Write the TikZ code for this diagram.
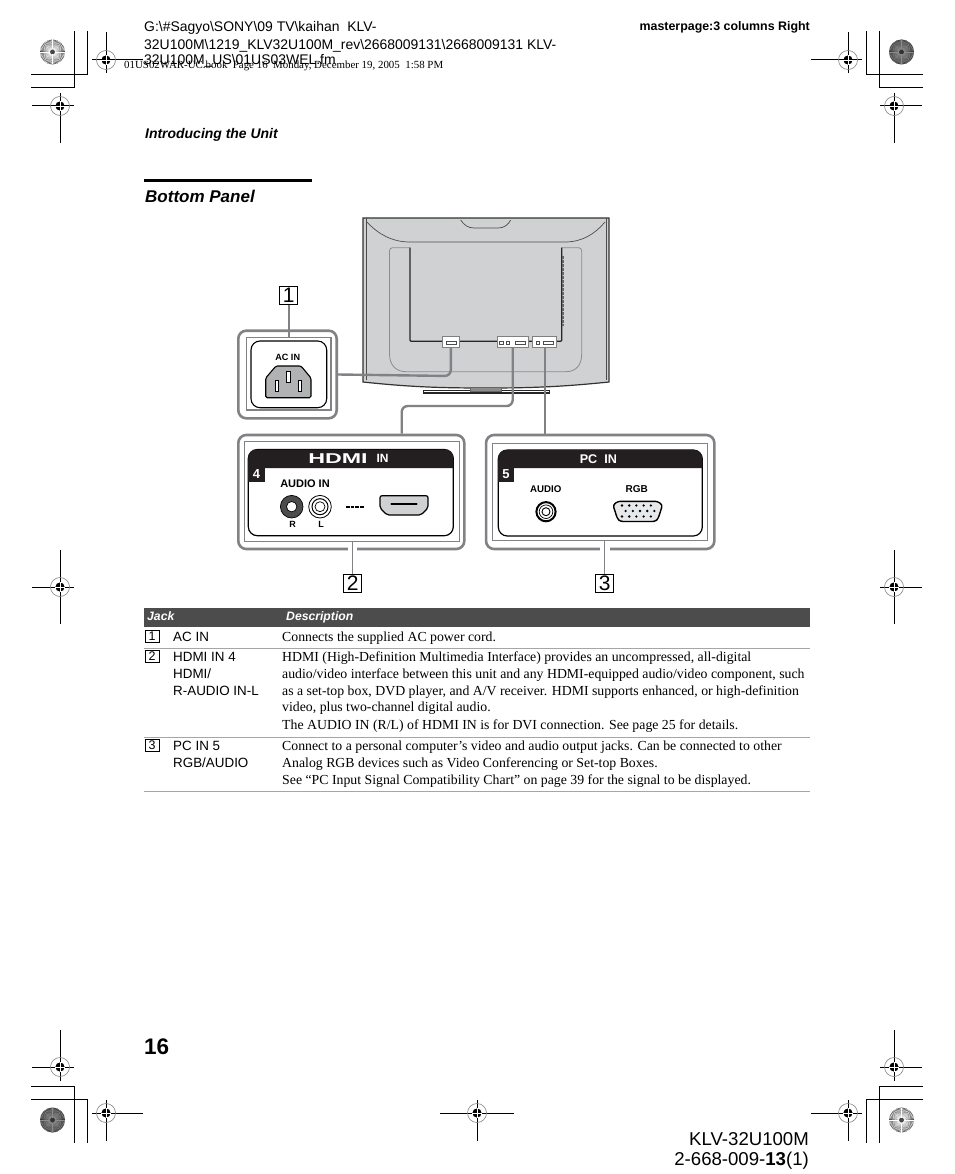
\documentclass[tikz,border=0pt]{standalone}
\usepackage{fontspec}
\setmainfont{Liberation Sans}
\newfontfamily\serifrm{Liberation Serif}
\usetikzlibrary{calc}
\definecolor{tvgray}{HTML}{D0D1D3}
\definecolor{wire}{HTML}{808285}
\definecolor{panelblk}{HTML}{231F20}
\newcommand{\fs}[1]{\fontsize{#1}{#1}\selectfont}
\newcommand{\regmark}[7]{% x y hleft hright vtop vbot name
  \coordinate (#7) at (#1,#2);
  \draw[crop] (#3,#2) -- (#4,#2);
  \draw[crop] (#1,#5) -- (#1,#6);
  \draw[gray,line width=.6pt] (#7) circle (9.5);
  \fill[black] (#7) circle (4.6);
  \draw[white,line width=.4pt] ($(#7)+(-4.6,0)$) -- ($(#7)+(4.6,0)$);
  \draw[white,line width=.4pt] ($(#7)+(0,-4.6)$) -- ($(#7)+(0,4.6)$);
}
\newcommand{\burst}[5]{% x y colour ray-colour name
  \coordinate (#5) at (#1,#2);
  \fill[#3] (#5) circle (12.5);
  \foreach \a in {0,6,...,354}{\draw[#4,line width=.4pt] ($(#5)+(\a:2.5)$) -- ($(#5)+(\a:12.5)$);}
}
\tikzset{
  x=1pt,y=-1pt,
  crop/.style={black,line width=1pt},
  wireline/.style={wire,line width=2.4pt,rounded corners=6pt},
  thinframe/.style={wire,line width=1pt},
  leader/.style={wire,line width=1pt},
  numbox/.style={draw=black,line width=.7pt,fill=white,minimum width=18pt,minimum height=18pt,inner sep=0pt,font=\fs{21}},
  smallbox/.style={draw=black,line width=.8pt,fill=white,minimum width=14pt,minimum height=12pt,inner sep=0pt,font=\fs{12.5}},
  txt/.style={anchor=base west,inner sep=0pt,font=\fs{13.4}},
  body/.style={anchor=base west,inner sep=0pt,font=\serifrm\fs{13.8}},
  lab/.style={inner sep=0pt,font=\bfseries\fs{9.7}},
  rowrule/.style={draw=black!35,line width=.8pt},
  jackport/.style={fill=tvgray,draw=black,line width=1.2pt},
}
\begin{document}
\begin{tikzpicture}
\useasboundingbox (0,0) rectangle (954,1174);
\fill[white] (0,0) rectangle (954,1174);

% crop marks
\draw[crop] (31,75)--(87,75)--(87,31);
\draw[crop] (31,88)--(74,88)--(74,31);
\draw[crop] (923,75)--(866,75)--(866,31);
\draw[crop] (923,88)--(879,88)--(879,31);
\draw[crop] (31,1086)--(74,1086)--(74,1143);
\draw[crop] (31,1099)--(87,1099)--(87,1143);
\draw[crop] (923,1086)--(879,1086)--(879,1143);
\draw[crop] (923,1099)--(866,1099)--(866,1143);
\regmark{106}{60}{92}{143}{32}{73}{ma}
\regmark{60}{106}{32}{74}{93}{143}{mb}
\regmark{848}{60}{811}{862}{32}{73}{mc}
\regmark{894}{106}{880}{922}{93}{143}{md}
\regmark{60}{587}{32}{74}{550}{624}{me}
\regmark{894}{587}{880}{922}{550}{624}{mf}
\regmark{60}{1067}{32}{74}{1030}{1081}{mg}
\regmark{106}{1113}{92}{143}{1100}{1141}{mh}
\regmark{477}{1113}{440}{514}{1100}{1141}{mi}
\regmark{894}{1067}{880}{922}{1030}{1081}{mj}
\regmark{848}{1113}{811}{862}{1100}{1141}{mk}
\burst{52.5}{52}{black!72}{white}{ba}
\burst{901.5}{52}{black!80}{black!45}{bb}
\burst{52.5}{1120}{black!80}{black!45}{bc}
\burst{901.5}{1120}{black!72}{white}{bd}

% header text
\node[anchor=base west,inner sep=0pt,font=\fs{13.95}] (p1) at (144,32) {G:\textbackslash\#Sagyo\textbackslash SONY\textbackslash 09 TV\textbackslash kaihan\ \ KLV-};
\node[anchor=base west,inner sep=0pt,font=\fs{13.95}] (p2) at (144,50) {32U100M\textbackslash 1219\_KLV32U100M\_rev\textbackslash 2668009131\textbackslash 2668009131 KLV-};
\node[anchor=base west,inner sep=0pt,font=\fs{13.95}] (p3) at (144,65) {32U100M\_US\textbackslash 01US03WEL.fm};
\node[anchor=base west,inner sep=0pt,font=\serifrm\fs{10.9}] (bk) at (124,69) {01US02WAR-UC.book\ \ Page 16\ \ Monday, December 19, 2005\ \ 1:58 PM};
\node[anchor=base east,inner sep=0pt,font=\bfseries\fs{12.4}] (mp) at (810,31) {masterpage:3 columns Right};
\node[anchor=base west,inner sep=0pt,font=\bfseries\itshape\fs{13.95}] (intro) at (145,138.5) {Introducing the Unit};
\fill[black] (144,179) rectangle (312,182);
\node[anchor=base west,inner sep=0pt,font=\bfseries\itshape\fs{17}] (bp) at (145,203) {Bottom Panel};

% TV
\path[fill=tvgray,draw=black!80,line width=1.2pt] (363,218) -- (609,218) -- (609,382) .. controls (560,387) and (530,388) .. (486,388) .. controls (440,388) and (410,387) .. (363,382) -- cycle;
\draw[black!70,line width=.7pt] (366,218) -- (366,380);
\draw[black!70,line width=.7pt] (606,218) -- (606,380);
\draw[black!70,line width=.7pt] (367,222) .. controls (378,234) and (392,242) .. (410,242) -- (565,242) .. controls (582,242) and (595,234) .. (605,222);
\draw[black!70,line width=.7pt] (460.7,220) .. controls (464,225) and (468,228) .. (474,228) -- (498,228) .. controls (504,228) and (508,225) .. (510.7,220);
\draw[black!45,line width=.8pt,rounded corners=3pt] (410,247.7) -- (389.5,247.7) -- (389.5,354);
\draw[black!45,line width=.8pt] (389.5,354) .. controls (389.5,365) and (396,371.7) .. (406,371.7) -- (566,371.7) .. controls (576,371.7) and (581.7,365) .. (581.7,354);
\draw[black!45,line width=.8pt,rounded corners=3pt] (581.7,354) -- (581.7,247.7) -- (561.7,247.7);
\draw[black!85,line width=1.2pt,rounded corners=1pt] (410,247.7) -- (410,341.3) -- (561.7,341.3) -- (561.7,247.7);
\draw[black!60,line width=1.4pt,dash pattern=on 3pt off 1pt] (563,256) -- (563,326);
% stand
\fill[black!85] (422.7,390) rectangle (550,394.3);
\fill[white] (424,391.3) rectangle (548.7,392.3);
\path[fill=black!45,draw=black!60,line width=.4pt] (470,387.5) rectangle (501.5,391.5);

% port windows on the TV
\node[draw=black!50,fill=white,line width=.8pt,minimum width=17pt,minimum height=11pt,inner sep=0pt] (wac) at (450.8,341.7) {};
\node[draw=black!50,fill=white,line width=.8pt,minimum width=30.5pt,minimum height=11pt,inner sep=0pt] (whd) at (512.7,341.7) {};
\node[draw=black!50,fill=white,line width=.8pt,minimum width=24pt,minimum height=11pt,inner sep=0pt] (wpc) at (544.7,341.7) {};
\draw[black!70,line width=.7pt] (446,341) rectangle (456,344);
\draw[black!70,line width=.7pt] (499.5,341) rectangle (503,344.5);
\draw[black!70,line width=.7pt] (506,341) rectangle (509.5,344.5);
\draw[black!70,line width=.7pt] (515,341) rectangle (525,344.5);
\draw[black!70,line width=.7pt] (536,341) rectangle (539.5,344.5);
\draw[black!70,line width=.7pt] (543,341) rectangle (553.5,344.5);

% AC box
\node[draw=wire,line width=2.6pt,rounded corners=8pt,minimum width=98.4pt,minimum height=87.6pt,inner sep=0pt] (acf) at (287.5,374.5) {};
\draw[thinframe,line width=1.4pt] (246.7,337.3) rectangle (331,410);
\draw[black,line width=1.1pt,rounded corners=9pt] (251,341) rectangle (326.7,407.7);
\node[lab,font=\bfseries\fs{9.1}] (aclab) at (287.7,357.7) {AC IN};
\path[fill=tvgray!85!black,draw=black,line width=1.1pt,rounded corners=1.5pt] (265.7,378) -- (276,366) -- (301,366) -- (311,378) -- (311,397.7) -- (265.7,397.7) -- cycle;
\draw[fill=white,draw=black,line width=.7pt] (275,380) rectangle (278.3,391);
\draw[fill=white,draw=black,line width=.7pt] (286.8,371.7) rectangle (290.6,382.3);
\draw[fill=white,draw=black,line width=.7pt] (298.3,380) rectangle (301.7,391);

% HDMI box
\node[draw=wire,line width=2.6pt,rounded corners=8pt,minimum width=226pt,minimum height=114pt,inner sep=0pt] (hdf) at (351.3,492) {};
\draw[thinframe] (244,441) rectangle (459,541);
\path[fill=white,draw=black,line width=1.2pt,rounded corners=9pt] (248.3,449.5) rectangle (453.3,535.7);
\path[fill=panelblk] (248.3,468) [rounded corners=8pt] -- (248.3,449.5) -- (453.3,449.5) [sharp corners] -- (453.3,468) -- cycle;
\fill[panelblk] (248.3,460) rectangle (265,482.3);
\node[inner sep=0pt,text=white,font=\bfseries\fs{13}] (n4) at (256.5,474.5) {4};
\node[inner sep=0pt,text=white,font=\bfseries\fs{15}] (hlogo) at (338,458.3) {\scalebox{1.55}[0.95]{HDMI}};
\node[inner sep=0pt,text=white,font=\bfseries\fs{12}] (hin) at (382.5,458.3) {IN};
\node[lab,font=\bfseries\fs{11}] (ain) at (305,483.5) {AUDIO IN};
\filldraw[fill=black!70,draw=black,line width=.7pt] (291.7,506.7) circle (11.3);
\filldraw[fill=white,draw=black,line width=.7pt] (291.7,506.7) circle (5.2);
\filldraw[fill=white,draw=black,line width=.8pt] (320,506.7) circle (11.3);
\draw[black,line width=1pt] (320,506.7) circle (8);
\draw[black,line width=.7pt] (320,506.7) circle (5);
\node[lab,font=\bfseries\fs{9}] (rl) at (292.7,524.3) {R};
\node[lab,font=\bfseries\fs{9}] (ll) at (321,524.3) {L};
\draw[black,line width=1.8pt,dash pattern=on 3.5pt off 1.2pt] (346,506.7) -- (364.5,506.7);
\path[jackport,rounded corners=2pt] (380,495.7) -- (428,495.7) -- (428,508) -- (421,515) -- (387,515) -- (380,508) -- cycle;
\draw[black,line width=2.2pt,line cap=round] (391.5,504.3) -- (416.5,504.3);

% PC box
\node[draw=wire,line width=2.6pt,rounded corners=8pt,minimum width=228.3pt,minimum height=114pt,inner sep=0pt] (pcf) at (600.2,492) {};
\draw[thinframe,line width=1.2pt] (492.7,443.3) rectangle (707.7,540.7);
\path[fill=white,draw=black,line width=1.2pt,rounded corners=9pt] (498.3,450) rectangle (702.3,536);
\path[fill=panelblk] (498.3,468) [rounded corners=8pt] -- (498.3,450) -- (702.3,450) [sharp corners] -- (702.3,468) -- cycle;
\fill[panelblk] (498.3,460) rectangle (514.3,482.3);
\node[inner sep=0pt,text=white,font=\bfseries\fs{13}] (n5) at (506,474.5) {5};
\node[inner sep=0pt,text=white,font=\bfseries\fs{12.6}] (pcin) at (598.3,459.3) {PC\ \ IN};
\node[lab] (aud) at (545.7,489.3) {AUDIO};
\node[lab,font=\bfseries\fs{10}] (rgb) at (636.7,489.3) {RGB};
\filldraw[fill=white,draw=black,line width=2pt] (546,511.7) circle (9.6);
\draw[black,line width=.7pt] (546,511.7) circle (6.8);
\draw[black,line width=.9pt] (546,511.7) circle (4);
\path[jackport,fill=tvgray!50,line width=1.4pt,rounded corners=2.5pt] (613,505) -- (618,501.3) -- (657.5,501.3) -- (662.5,505) -- (658,519) -- (655,521.5) -- (620.5,521.5) -- (617.5,519) -- cycle;
\foreach \i in {0,...,4}{\fill[black] (622+\i*7.2,505.5) circle (1.3);
  \fill[black] (625.6+\i*7.2,511) circle (1.3);
  \fill[black] (622+\i*7.2,516.5) circle (1.3);}

% callout numbers and leaders
\node[numbox] (c1) at (288.8,295.3) {1};
\node[numbox] (c2) at (352.8,583.2) {2};
\node[numbox] (c3) at (604.7,583.2) {3};
\coordinate (c2a) at (352.3,541);
\coordinate (c3a) at (604.7,540.7);
\coordinate (c1a) at (288.8,337);
\fill[white] (348,546) rectangle (357,552);
\fill[white] (600,546) rectangle (610,552);
\draw[leader,line width=1.8pt] (c1.south) -- (c1a);
\draw[leader] (c2a) -- (c2a |- c2.north);
\draw[leader] (c3a) -- (c3.north);

% wires
\draw[wireline] (acf.east) -- (450.8,376) -- (wac.south);
\coordinate (hu1) at (512.7,406);
\coordinate (hu2) at (401.7,406);
\coordinate (hu3) at (401.7,433.7);
\coordinate (pu1) at (544.7,433.7);
\draw[wireline] (whd.south) -- (hu1) -- (hu2) -- (hu3);
\draw[wire,line width=2pt] (wpc.south) -- (pu1);

% table
\fill[black!70] (144,608) rectangle (810,627);
\node[anchor=base west,inner sep=0pt,text=white,font=\bfseries\itshape\fs{12.2}] (tj) at (147,620.5) {Jack};
\node[anchor=base west,inner sep=0pt,text=white,font=\bfseries\itshape\fs{12.2}] (td) at (286,620.5) {Description};
\node[smallbox] (s1) at (152,636.5) {1};
\node[smallbox] (s2) at (152,656.5) {2};
\node[smallbox] (s3) at (152,745.5) {3};
\node[txt] (j1) at (173,641) {AC IN};
\node[txt] (j2) at (173,661) {HDMI IN 4};
\node[txt] (j3) at (173,678) {HDMI/};
\node[txt] (j4) at (173,695) {R-AUDIO IN-L};
\node[txt] (j5) at (173,750) {PC IN 5};
\node[txt] (j6) at (173,767) {RGB/AUDIO};
\node[body] (d1) at (282,641) {Connects the supplied AC power cord.};
\node[body] (d2) at (282,661) {HDMI (High-Definition Multimedia Interface) provides an uncompressed, all-digital};
\node[body] (d3) at (282,678) {audio/video interface between this unit and any HDMI-equipped audio/video component, such};
\node[body] (d4) at (282,695) {as a set-top box, DVD player, and A/V receiver. HDMI supports enhanced, or high-definition};
\node[body] (d5) at (282,711.5) {video, plus two-channel digital audio.};
\node[body] (d6) at (282,729) {The AUDIO IN (R/L) of HDMI IN is for DVI connection. See page 25 for details.};
\node[body] (d7) at (282,750) {Connect to a personal computer’s video and audio output jacks. Can be connected to other};
\node[body] (d8) at (282,767) {Analog RGB devices such as Video Conferencing or Set-top Boxes.};
\node[body] (d9) at (282,784) {See “PC Input Signal Compatibility Chart” on page 39 for the signal to be displayed.};
\draw[rowrule] (144,648.5) -- (810,648.5);
\draw[rowrule] (144,737) -- (810,737);
\draw[rowrule] (144,791.5) -- (810,791.5);

% footer
\node[anchor=base west,inner sep=0pt,font=\bfseries\fs{22.5}] (pg) at (144,1054.5) {16};
\node[anchor=base east,inner sep=0pt,font=\fs{18.6}] (f1) at (809,1145) {KLV-32U100M};
\node[anchor=base east,inner sep=0pt,font=\fs{18.6}] (f2) at (809,1165) {2-668-009-\textbf{13}(1)};
\end{tikzpicture}
\end{document}
